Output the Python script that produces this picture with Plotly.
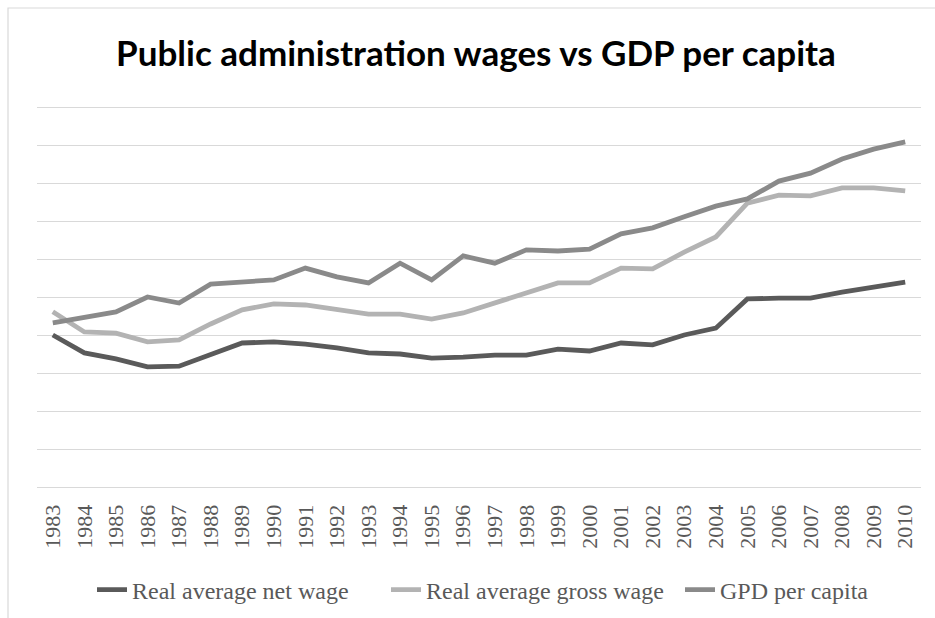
import plotly.graph_objects as go

years = [str(y) for y in range(1983, 2011)]

net_wage = [4.00, 3.53, 3.37, 3.16, 3.18, 3.47, 3.79, 3.82, 3.76, 3.66,
            3.53, 3.50, 3.39, 3.42, 3.47, 3.47, 3.63, 3.58, 3.79, 3.74,
            4.00, 4.18, 4.95, 4.97, 4.97, 5.13, 5.26, 5.39]

gross_wage = [4.61, 4.08, 4.05, 3.82, 3.87, 4.29, 4.66, 4.82, 4.79, 4.68,
              4.55, 4.55, 4.42, 4.58, 4.84, 5.08, 5.37, 5.37, 5.76, 5.74,
              6.18, 6.58, 7.47, 7.68, 7.66, 7.87, 7.87, 7.79]

gdp_pc = [4.32, 4.47, 4.61, 5.00, 4.84, 5.34, 5.39, 5.45, 5.76, 5.53,
          5.37, 5.89, 5.45, 6.08, 5.89, 6.24, 6.21, 6.26, 6.66, 6.82,
          7.11, 7.39, 7.58, 8.05, 8.26, 8.63, 8.89, 9.08]

series_names = ["Real average net wage", "Real average gross wage", "GPD per capita"]
series_colors = ["#5a5a5a", "#b3b3b3", "#8a8a8a"]

fig = go.Figure()
for name, vals, col in zip(series_names, [net_wage, gross_wage, gdp_pc], series_colors):
    fig.add_trace(go.Scatter(
        x=years, y=vals, name=name, mode="lines",
        line=dict(color=col, width=4.8),
    ))

# plot area spans y 105..489 px; gridlines 0..10 sit at 487..107
ext = 2 * 10 / 380
top_px, bot_px = 105, 489
ph = bot_px - top_px

fig.update_layout(
    width=935, height=618,
    margin=dict(l=37, r=14, t=top_px, b=618 - bot_px, autoexpand=False),
    paper_bgcolor="white", plot_bgcolor="white",
    title=dict(
        text="<b>Public administration wages vs GDP per capita</b>",
        font=dict(family="Lato", size=35, color="#000000"),
        x=476/935, xref="container", xanchor="center",
        y=1 - 54/618, yref="container", yanchor="middle",
    ),
    showlegend=True,
    legend=dict(
        orientation="h", x=(92 - 37) / 884, xanchor="left",
        y=(bot_px - 590) / ph, yanchor="middle",
        font=dict(family="Liberation Serif", size=24, color="#595959"),
        bgcolor="rgba(0,0,0,0)",
        entrywidth=249, entrywidthmode="pixels",
    ),
    xaxis=dict(
        type="category", range=[-0.5, 27.5], automargin=False,
        showgrid=False, zeroline=False, showline=False,
        tickangle=-90, ticks="outside", ticklen=6, tickcolor="rgba(0,0,0,0)",
        tickfont=dict(family="Liberation Serif", size=22, color="#595959"),
    ),
    yaxis=dict(
        range=[-ext, 10 + ext], dtick=1, tick0=0, showticklabels=False, automargin=False,
        showgrid=True, gridcolor="#d9d9d9", gridwidth=1.3,
        zeroline=False, showline=False,
    ),
    shapes=[dict(
        type="rect", xref="paper", yref="paper",
        x0=(8 - 37) / 884, x1=(960 - 37) / 884,
        y0=(bot_px - 640) / ph, y1=(bot_px - 8) / ph,
        line=dict(color="#d9d9d9", width=1.2), fillcolor="rgba(0,0,0,0)",
        layer="below",
    )],
)

fig.write_html(
    "out.html",
    config={"displayModeBar": False},
    post_script="document.body.style.margin='0';document.body.style.overflow='hidden';",
)
